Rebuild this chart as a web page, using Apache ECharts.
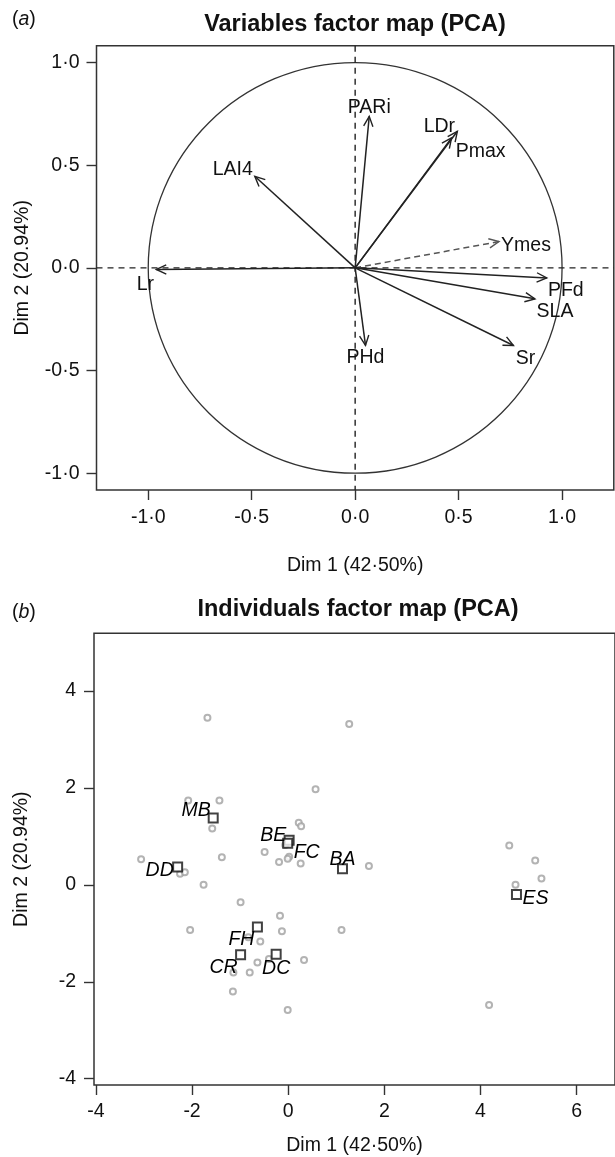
<!DOCTYPE html>
<html>
<head>
<meta charset="utf-8">
<script src="https://cdn.jsdelivr.net/npm/echarts@6/dist/echarts.min.js"></script>
<style>
html,body{margin:0;padding:0;background:#fff;}
#chart{width:615px;height:1157px;}
</style>
</head>
<body>
<div id="chart"></div>
<script>
// ---------- (a) Variables factor map: arrow tips (Dim 1, Dim 2) ----------
const varNames = ['LAI4', 'Lr', 'PARi', 'LDr', 'Pmax', 'Ymes', 'PFd', 'SLA', 'Sr', 'PHd'];
const varDim1  = [-0.485, -0.961, 0.068, 0.494, 0.466, 0.695, 0.926, 0.869, 0.765, 0.050];
const varDim2  = [ 0.446, -0.008, 0.738, 0.665, 0.633, 0.128, -0.049, -0.151, -0.378, -0.378];
const supplementaryVars = ['Ymes'];

// ---------- (b) Individuals factor map ----------
const indDim1 = [0.57, -2.08, -1.43, -1.58, 0.22, 0.27, -0.06, -0.49, -1.38, -3.06,
                 0.02, -0.01, -0.19, 0.26, 1.68, -2.25, -2.15, -1.76, -0.99, -0.17,
                 -2.04, -0.13, 1.11, -0.58, -0.83, -0.64, 0.33, -0.80, -1.14, -0.40,
                 -1.15, -0.01, 4.18, -1.68, 1.27, 4.60, 5.14, 5.27, 4.73];
const indDim2 = [1.97, 1.74, 1.74, 1.16, 1.28, 1.21, 0.82, 0.68, 0.57, 0.53,
                 0.58, 0.54, 0.47, 0.44, 0.39, 0.23, 0.26, 0.00, -0.36, -0.64,
                 -0.93, -0.96, -0.93, -1.17, -1.08, -1.60, -1.55, -1.81, -1.81, -1.53,
                 -2.20, -2.58, -2.48, 3.45, 3.32, 0.81, 0.50, 0.13, 0.00];
const groupNames = ['MB', 'BE', 'FC', 'BA', 'DD', 'FH', 'CR', 'DC', 'ES'];
const groupDim1  = [-1.56, 0.02, -0.01, 1.13, -2.30, -0.64, -0.99, -0.25, 4.75];
const groupDim2  = [ 1.38, 0.92, 0.86, 0.33, 0.37, -0.87, -1.44, -1.43, -0.20];

// ---------- Tick values ----------
const ticksA  = [-1, -0.5, 0, 0.5, 1];
const ticksBx = [-4, -2, 0, 2, 4, 6];
const ticksBy = [-4, -2, 0, 2, 4];

// ---------- Styles (label offsets in px, not data) ----------
const FONT = '"Liberation Sans", Arial, Helvetica, sans-serif';
const INK = '#111';
const varLabelOffset = {
  LAI4: [-22, -7], Lr: [-11, 15], PARi: [0, -9], LDr: [-18, -5], Pmax: [29, 14],
  Ymes: [27, 4], PFd: [19, 13], SLA: [20, 13], Sr: [12, 13], PHd: [0, 12]
};
const groupLabelOffset = {
  MB: [-17, -7], BE: [-16, -5], FC: [19, 9], BA: [0, -9], DD: [-18, 4],
  FH: [-16, 13], CR: [-17, 13], DC: [0, 14], ES: [19, 4]
};

function fmtDot(v) {
  if (Math.abs(v) < 1e-9) return '0·0';
  return (v < 0 ? '-' : '') + Math.abs(v).toFixed(1).replace('.', '·');
}

function makeAxis(gridIndex, min, max, ticks, fmt, name, nameGap, margin) {
  return {
    type: 'value', gridIndex, min, max,
    splitLine: { show: false },
    axisLine: { show: false, onZero: false },
    axisTick: { show: true, inside: false, length: 10, customValues: ticks,
                lineStyle: { color: '#333', width: 1.4 } },
    axisLabel: { customValues: ticks, formatter: fmt, margin,
                 fontFamily: FONT, fontSize: 19.5, color: INK },
    name, nameLocation: 'middle', nameGap,
    nameTextStyle: { fontFamily: FONT, fontSize: 19.5, color: INK }
  };
}

const chart = echarts.init(document.getElementById('chart'), null, { renderer: 'canvas' });

const option = {
  animation: false,
  backgroundColor: '#fff',
  graphic: [
    { type: 'text', x: 12, y: 20, style: { text: '({i|a})', font: '19.5px ' + FONT, fill: INK,
      align: 'left', verticalAlign: 'middle', rich: { i: { fontStyle: 'italic', fontSize: 19.5, fontFamily: FONT, fill: INK } } } },
    { type: 'text', x: 355, y: 25, style: { text: 'Variables factor map (PCA)', font: 'bold 23.5px ' + FONT,
      fill: INK, align: 'center', verticalAlign: 'middle' } },
    { type: 'text', x: 12, y: 613, style: { text: '({i|b})', font: '19.5px ' + FONT, fill: INK,
      align: 'left', verticalAlign: 'middle', rich: { i: { fontStyle: 'italic', fontSize: 19.5, fontFamily: FONT, fill: INK } } } },
    { type: 'text', x: 358, y: 610, style: { text: 'Individuals factor map (PCA)', font: 'bold 23.5px ' + FONT,
      fill: INK, align: 'center', verticalAlign: 'middle' } }
  ],
  grid: [
    { left: 96.5, top: 45.7, width: 517.3, height: 444.3, show: true,
      borderColor: '#333', borderWidth: 1.5, backgroundColor: 'transparent' },
    { left: 94, top: 633.3, width: 529, height: 452.7, show: true,
      borderColor: '#333', borderWidth: 1.5, backgroundColor: 'transparent' }
  ],
  xAxis: [
    makeAxis(0, -1.25, 1.25, ticksA, fmtDot, 'Dim 1 (42·50%)', 66, 18),
    makeAxis(1, -4.04, 6.8, ticksBx, v => String(v), 'Dim 1 (42·50%)', 51, 17)
  ],
  yAxis: [
    makeAxis(0, -1.082, 1.082, ticksA, fmtDot, 'Dim 2 (20.94%)', 64, 17),
    makeAxis(1, -4.13, 5.19, ticksBy, v => String(v), 'Dim 2 (20.94%)', 62, 18)
  ],
  series: [
    // unit circle + dashed zero lines (reference geometry of the correlation circle)
    {
      type: 'custom', xAxisIndex: 0, yAxisIndex: 0, silent: true, z: 1,
      data: [[0, 0]],
      renderItem(params, api) {
        const c = api.coord([0, 0]);
        const s = api.size([1, 1]);
        const cs = params.coordSys;
        const dash = { stroke: '#222', lineWidth: 1.4, lineDash: [6, 5], fill: null };
        return {
          type: 'group',
          children: [
            { type: 'ellipse', shape: { cx: c[0], cy: c[1], rx: s[0], ry: s[1] },
              style: { stroke: '#333', lineWidth: 1.3, fill: null } },
            { type: 'line', shape: { x1: cs.x, y1: c[1], x2: cs.x + cs.width, y2: c[1] }, style: dash },
            { type: 'line', shape: { x1: c[0], y1: cs.y, x2: c[0], y2: cs.y + cs.height }, style: dash }
          ]
        };
      }
    },
    // variable arrows
    {
      type: 'custom', xAxisIndex: 0, yAxisIndex: 0, silent: true, z: 3,
      data: varDim1.map((x, i) => [x, varDim2[i]]),
      renderItem(params, api) {
        const i = params.dataIndex;
        const name = varNames[i];
        const o = api.coord([0, 0]);
        const t = api.coord([api.value(0), api.value(1)]);
        const supp = supplementaryVars.indexOf(name) >= 0;
        const ang = Math.atan2(t[1] - o[1], t[0] - o[0]);
        const L = 11, A = 25 * Math.PI / 180;
        const p1 = [t[0] - L * Math.cos(ang - A), t[1] - L * Math.sin(ang - A)];
        const p2 = [t[0] - L * Math.cos(ang + A), t[1] - L * Math.sin(ang + A)];
        const col = supp ? '#555' : '#222';
        const off = varLabelOffset[name] || [0, 0];
        return {
          type: 'group',
          children: [
            { type: 'line', shape: { x1: o[0], y1: o[1], x2: t[0], y2: t[1] },
              style: { stroke: col, lineWidth: 1.5, lineDash: supp ? [6, 4] : null, fill: null } },
            { type: 'polyline', shape: { points: [p1, t, p2] },
              style: { stroke: col, lineWidth: 1.4, fill: null } },
            { type: 'text', x: t[0] + off[0], y: t[1] + off[1],
              style: { text: name, font: '19.5px ' + FONT, fill: INK, align: 'center', verticalAlign: 'middle' } }
          ]
        };
      }
    },
    // individuals
    {
      type: 'scatter', xAxisIndex: 1, yAxisIndex: 1, z: 2, silent: true,
      symbol: 'emptyCircle', symbolSize: 6,
      itemStyle: { color: '#a0a0a0', borderWidth: 1.2 },
      data: indDim1.map((x, i) => [x, indDim2[i]])
    },
    // group centroids
    {
      type: 'scatter', xAxisIndex: 1, yAxisIndex: 1, z: 4, silent: true,
      symbol: 'emptyRect', symbolSize: 9,
      itemStyle: { color: '#111', borderWidth: 1.5 },
      data: groupDim1.map((x, i) => ({
        value: [x, groupDim2[i]],
        name: groupNames[i],
        label: { offset: groupLabelOffset[groupNames[i]] || [0, 0] }
      })),
      label: {
        show: true, position: 'inside', formatter: p => p.name,
        fontFamily: FONT, fontSize: 19.5, fontStyle: 'italic', color: '#000',
        textBorderWidth: 0, textBorderColor: 'transparent', opacity: 1
      }
    }
  ]
};
chart.setOption(option);
</script>
</body>
</html>
